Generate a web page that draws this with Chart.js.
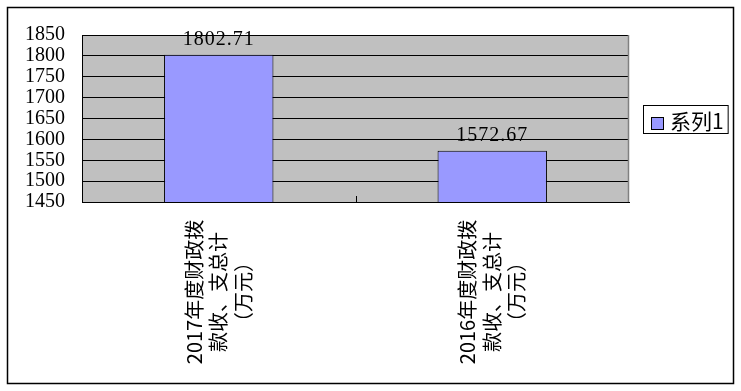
<!DOCTYPE html>
<html>
<head>
<meta charset="utf-8">
<script src="https://cdn.jsdelivr.net/npm/chart.js@4/dist/chart.umd.min.js"></script>
<style>
  html, body { margin: 0; padding: 0; background: #ffffff; }
  #wrap { width: 741px; height: 391px; position: relative; }
</style>
</head>
<body>
<div id="wrap"><canvas id="c" width="741" height="391"></canvas></div>
<script>
const categories = [
  ["2017年度财政拨", "款收、支总计", "（万元）"],
  ["2016年度财政拨", "款收、支总计", "（万元）"]
];
const seriesName = "系列1";
const seriesValues = [1802.71, 1572.67];
const yMin = 1450;
const yMax = 1850;
const yStep = 50;

const SERIF = '"Liberation Serif", "DejaVu Serif", serif';
const CJK = '"Noto Sans CJK SC", "Noto Sans", sans-serif';
const BAR_COLOR = '#9999FF';

const framePlugin = {
  id: 'frame',
  beforeDraw(chart) {
    const {ctx, chartArea: a} = chart;
    ctx.save();
    ctx.fillStyle = '#ffffff';
    ctx.fillRect(0, 0, chart.width, chart.height);
    ctx.fillStyle = '#C0C0C0';
    ctx.fillRect(a.left, a.top, a.right - a.left, a.bottom - a.top);
    ctx.restore();
  },
  afterDraw(chart) {
    const {ctx, chartArea: a} = chart;
    ctx.save();
    // plot area right border (gray)
    ctx.strokeStyle = '#808080';
    ctx.lineWidth = 1.5;
    ctx.beginPath();
    ctx.moveTo(a.right - 0.5, a.top);
    ctx.lineTo(a.right - 0.5, a.bottom);
    ctx.stroke();
    // category boundary tick marks (inside)
    const xs = chart.scales.x;
    ctx.strokeStyle = '#000000';
    ctx.lineWidth = 1;
    for (let i = 1; i < categories.length; i++) {
      const px = Math.round((xs.getPixelForValue(i - 1) + xs.getPixelForValue(i)) / 2) + 0.5;
      ctx.beginPath();
      ctx.moveTo(px, a.bottom);
      ctx.lineTo(px, a.bottom - 6);
      ctx.stroke();
    }
    // outer chart border
    ctx.strokeStyle = '#000000';
    ctx.lineWidth = 1.5;
    ctx.strokeRect(7.5, 7.5, chart.width - 15, chart.height - 15);
    ctx.restore();
  }
};

const labelPlugin = {
  id: 'labels',
  afterDatasetsDraw(chart) {
    const {ctx} = chart;
    const meta = chart.getDatasetMeta(0);
    ctx.save();
    ctx.fillStyle = '#000000';
    ctx.font = '20px ' + SERIF;
    ctx.textAlign = 'center';
    ctx.textBaseline = 'alphabetic';
    if ('letterSpacing' in ctx) ctx.letterSpacing = '1px';
    meta.data.forEach((el, i) => {
      ctx.fillText(seriesValues[i].toFixed(2), el.x, el.y - 10);
    });
    ctx.restore();
  },
  afterDraw(chart) {
    const {ctx, chartArea: a} = chart;
    const xs = chart.scales.x;
    ctx.save();
    // rotated, centered multi-line category labels
    ctx.fillStyle = '#000000';
    ctx.font = '20px ' + CJK;
    ctx.textAlign = 'center';
    ctx.textBaseline = 'middle';
    const lineH = 24.5;
    const cy = a.bottom + 90;
    categories.forEach((lines, i) => {
      const cx = xs.getPixelForValue(i);
      ctx.save();
      ctx.translate(cx, cy);
      ctx.rotate(-Math.PI / 2);
      lines.forEach((t, j) => {
        ctx.fillText(t, 0, (j - (lines.length - 1) / 2) * lineH);
      });
      ctx.restore();
    });
    // legend
    const ds = chart.data.datasets[0];
    const lx = a.right + 14;
    const midY = (a.top + a.bottom) / 2;
    ctx.font = '21px ' + CJK;
    const tw = ctx.measureText(ds.label).width;
    const boxW = 8 + 12 + 7 + tw + 4;
    const boxH = 28;
    const top = Math.round(midY - boxH / 2) + 0.5;
    ctx.strokeStyle = '#000000';
    ctx.lineWidth = 1;
    ctx.fillStyle = '#ffffff';
    ctx.fillRect(lx + 0.5, top, boxW, boxH);
    ctx.strokeRect(lx + 0.5, top, boxW, boxH);
    ctx.fillStyle = ds.backgroundColor;
    ctx.fillRect(lx + 8.5, top + 12, 12, 12);
    ctx.strokeRect(lx + 8.5, top + 12, 12, 12);
    ctx.fillStyle = '#000000';
    ctx.textAlign = 'left';
    ctx.textBaseline = 'middle';
    ctx.fillText(ds.label, lx + 27, top + 16);
    ctx.restore();
  }
};

new Chart(document.getElementById('c'), {
  type: 'bar',
  data: {
    labels: categories,
    datasets: [{
      label: seriesName,
      data: seriesValues,
      backgroundColor: BAR_COLOR,
      borderColor: '#000000',
      borderWidth: 1,
      barPercentage: 0.4,
      categoryPercentage: 1.0
    }]
  },
  options: {
    responsive: false,
    animation: false,
    devicePixelRatio: 1,
    layout: { padding: { top: 35, left: 0, right: 112, bottom: 0 } },
    plugins: {
      legend: { display: false },
      tooltip: { enabled: false }
    },
    scales: {
      x: {
        grid: { display: false, drawTicks: false },
        border: { display: true, color: '#000000', width: 1 },
        ticks: { display: false },
        afterFit(scale) { scale.height = 189; }
      },
      y: {
        min: yMin,
        max: yMax,
        ticks: {
          stepSize: yStep,
          autoSkip: false,
          color: '#000000',
          padding: 17,
          font: { family: SERIF, size: 20 },
          callback: (v) => String(v)
        },
        grid: { color: '#000000', lineWidth: 1, drawTicks: false },
        border: { display: true, color: '#000000', width: 1 },
        afterFit(scale) { scale.width = 82; }
      }
    }
  },
  plugins: [framePlugin, labelPlugin]
});
</script>
</body>
</html>
